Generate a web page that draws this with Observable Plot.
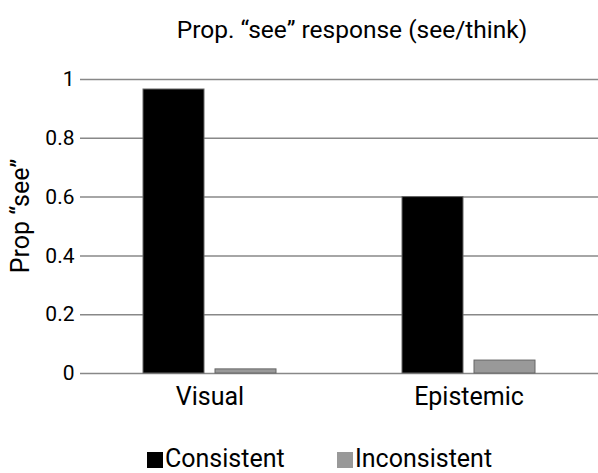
<!DOCTYPE html>
<html><head><meta charset="utf-8">
<script src="https://cdn.jsdelivr.net/npm/d3@7"></script>
<script src="https://cdn.jsdelivr.net/npm/@observablehq/plot@0.6"></script>
<style>
body{margin:0;background:#fff;font-family:Roboto,sans-serif;color:#000;}
#wrap{position:relative;width:598px;height:473px;overflow:hidden;}
#title{position:absolute;left:106px;width:492px;top:18px;text-align:center;font-size:24.5px;line-height:24px;white-space:nowrap;}
#ylabel{position:absolute;left:20px;top:216px;transform:translate(-50%,-50%) rotate(-90deg);font-size:25px;white-space:nowrap;line-height:25px;}
#chart{position:absolute;left:0;top:55px;}
#legend{position:absolute;left:0;top:447px;width:598px;height:24px;font-size:25px;line-height:24px;white-space:nowrap;}
.item{position:absolute;top:0;}
.sw{display:inline-block;width:16px;height:16px;margin-right:2px;vertical-align:-1px;}
</style></head><body>
<div id="wrap">
  <div id="title"></div>
  <div id="ylabel"></div>
  <div id="chart"></div>
  <div id="legend"></div>
</div>
<script>
const titleText = "Prop. “see” response (see/think)";
const yLabelText = "Prop “see”";
const groups = ["Visual", "Epistemic"];
const conditions = ["Consistent", "Inconsistent"];
const consistentValues = [0.966, 0.60];
const inconsistentValues = [0.014, 0.044];
const yTicks = [0, 0.2, 0.4, 0.6, 0.8, 1];
const colors = ["#000000", "#999999"];

const data = groups.flatMap((g, i) => [
  {group: g, cond: conditions[0], value: consistentValues[i]},
  {group: g, cond: conditions[1], value: inconsistentValues[i]}
]);

document.getElementById("title").textContent = titleText;
document.getElementById("ylabel").textContent = yLabelText;

const chart = Plot.plot({
  width: 598, height: 358,
  marginTop: 24, marginBottom: 40, marginLeft: 80, marginRight: 0,
  style: {fontFamily: "Roboto, sans-serif", fontSize: "21px", color: "#000", background: "transparent", overflow: "visible"},
  fx: {domain: groups, padding: 0, label: null},
  x: {domain: conditions, paddingInner: 0.15, paddingOuter: 0.849, axis: null},
  y: {domain: [0, 1], label: null},
  color: {domain: conditions, range: colors},
  marks: [
    Plot.ruleY(yTicks, {stroke: "#888", strokeWidth: 1.5}),
    Plot.barY(data, {fx: "group", x: "cond", y: "value", fill: "cond", stroke: "#666", strokeWidth: 1}),
    Plot.axisY(yTicks, {tickSize: 0, tickPadding: 6, tickFormat: d => String(d), fontSize: 21, label: null}),
    Plot.axisFx({anchor: "bottom", tickSize: 0, tickPadding: 14, fontSize: 25, label: null})
  ]
});
document.getElementById("chart").appendChild(chart);

const legend = document.getElementById("legend");
const legendX = [147, 337];
conditions.forEach((c, i) => {
  const item = document.createElement("div");
  item.className = "item";
  item.style.left = legendX[i] + "px";
  const sw = document.createElement("span");
  sw.className = "sw";
  sw.style.background = colors[i];
  item.appendChild(sw);
  item.appendChild(document.createTextNode(c));
  legend.appendChild(item);
});
</script>
</body></html>
